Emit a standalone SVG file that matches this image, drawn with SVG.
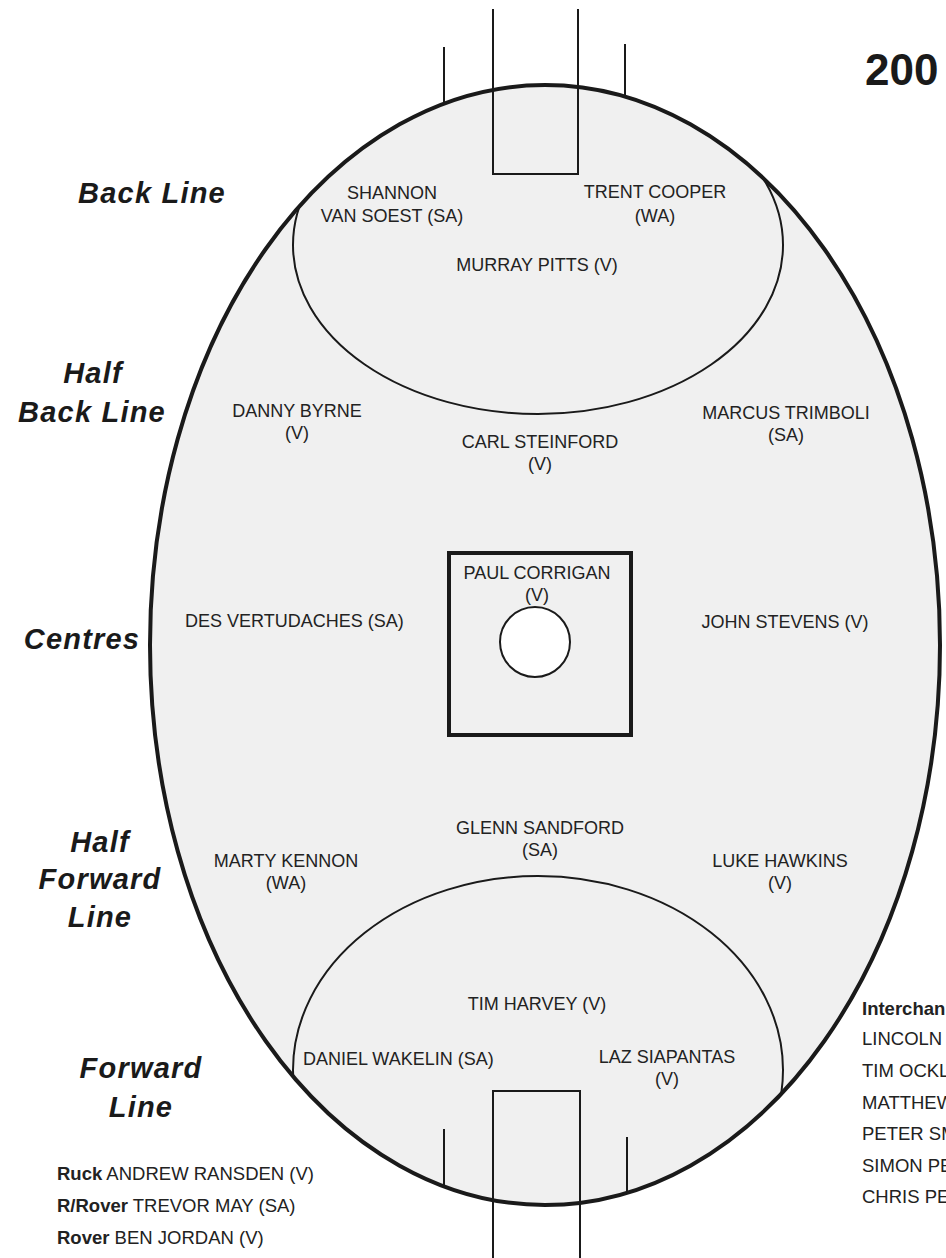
<svg xmlns="http://www.w3.org/2000/svg" width="946" height="1258" viewBox="0 0 946 1258">
<style>
.name{font-family:"Liberation Sans",Arial,sans-serif;font-size:18px;fill:#222;text-anchor:middle}
.lbl{font-family:"Liberation Sans",Arial,sans-serif;font-size:29px;font-weight:bold;font-style:italic;letter-spacing:1.2px;fill:#1a1a1a;text-anchor:middle}
.list{font-family:"Liberation Sans",Arial,sans-serif;font-size:18.5px;fill:#222}
.b{font-weight:bold}
.thin{fill:none;stroke:#1a1a1a;stroke-width:2}
</style>
<defs>
<clipPath id="oval"><ellipse cx="545" cy="645" rx="395" ry="560"/></clipPath>
</defs>
<rect width="946" height="1258" fill="#fff"/>
<g id="field">
<ellipse cx="545" cy="645" rx="395" ry="560" fill="#f0f0f0" stroke="none"/>
<g clip-path="url(#oval)">
<ellipse cx="538" cy="245" rx="245" ry="169" class="thin"/>
<ellipse cx="538" cy="1070" rx="245" ry="194" class="thin"/>
</g>
<ellipse cx="545" cy="645" rx="395" ry="560" fill="none" stroke="#1a1a1a" stroke-width="4"/>
<rect x="449" y="553" width="182" height="182" fill="none" stroke="#1a1a1a" stroke-width="4"/>
<circle cx="535" cy="642" r="35" fill="#fff" stroke="#1a1a1a" stroke-width="2"/>
</g>
<g id="goals">
<path class="thin" d="M493 9V174H578V9M444 47V104M625 44V97"/>
<path class="thin" d="M493 1258V1091H580V1258M444 1129V1186M627 1137V1193"/>
</g>
<g id="connectors"></g>
<text x="865" y="85" font-family="Liberation Sans,Arial,sans-serif" font-size="44" font-weight="bold" fill="#1a1a1a">200</text>
<g id="line-labels">
<text class="lbl" x="152" y="203">Back Line</text>
<text class="lbl" x="93" y="383">Half</text>
<text class="lbl" x="92" y="422">Back Line</text>
<text class="lbl" x="82" y="649">Centres</text>
<text class="lbl" x="100" y="852">Half</text>
<text class="lbl" x="100" y="889">Forward</text>
<text class="lbl" x="100" y="927">Line</text>
<text class="lbl" x="141" y="1078">Forward</text>
<text class="lbl" x="141" y="1117">Line</text>
</g>
<g id="p-vansoest"><text class="name" x="392" y="199">SHANNON</text><text class="name" x="392" y="222">VAN SOEST (SA)</text></g>
<g id="p-cooper"><text class="name" x="655" y="198">TRENT COOPER</text><text class="name" x="655" y="222">(WA)</text></g>
<g id="p-pitts"><text class="name" x="537" y="271">MURRAY PITTS (V)</text></g>
<g id="p-byrne"><text class="name" x="297" y="417">DANNY BYRNE</text><text class="name" x="297" y="439">(V)</text></g>
<g id="p-steinford"><text class="name" x="540" y="448">CARL STEINFORD</text><text class="name" x="540" y="470">(V)</text></g>
<g id="p-trimboli"><text class="name" x="786" y="419">MARCUS TRIMBOLI</text><text class="name" x="786" y="441">(SA)</text></g>
<g id="p-corrigan"><text class="name" x="537" y="579">PAUL CORRIGAN</text><text class="name" x="537" y="601">(V)</text></g>
<g id="p-vertudaches"><text class="name" x="185" y="627" style="text-anchor:start">DES VERTUDACHES (SA)</text></g>
<g id="p-stevens"><text class="name" x="785" y="628">JOHN STEVENS (V)</text></g>
<g id="p-sandford"><text class="name" x="540" y="834">GLENN SANDFORD</text><text class="name" x="540" y="856">(SA)</text></g>
<g id="p-kennon"><text class="name" x="286" y="867">MARTY KENNON</text><text class="name" x="286" y="889">(WA)</text></g>
<g id="p-hawkins"><text class="name" x="780" y="867">LUKE HAWKINS</text><text class="name" x="780" y="889">(V)</text></g>
<g id="p-harvey"><text class="name" x="537" y="1010">TIM HARVEY (V)</text></g>
<g id="p-wakelin"><text class="name" x="303" y="1065" style="text-anchor:start">DANIEL WAKELIN (SA)</text></g>
<g id="p-siapantas"><text class="name" x="667" y="1063">LAZ SIAPANTAS</text><text class="name" x="667" y="1085">(V)</text></g>
<g id="followers">
<text class="list" x="57" y="1180"><tspan class="b">Ruck</tspan> ANDREW RANSDEN (V)</text>
<text class="list" x="57" y="1212"><tspan class="b">R/Rover</tspan> TREVOR MAY (SA)</text>
<text class="list" x="57" y="1244"><tspan class="b">Rover</tspan> BEN JORDAN (V)</text>
</g>
<g id="interchange">
<text class="list b" x="862" y="1015">Interchan</text>
<text class="list" x="862" y="1045">LINCOLN</text>
<text class="list" x="862" y="1077">TIM OCKL</text>
<text class="list" x="862" y="1109">MATTHEW</text>
<text class="list" x="862" y="1140">PETER SM</text>
<text class="list" x="862" y="1172">SIMON PE</text>
<text class="list" x="862" y="1203">CHRIS PE</text>
</g>
</svg>
